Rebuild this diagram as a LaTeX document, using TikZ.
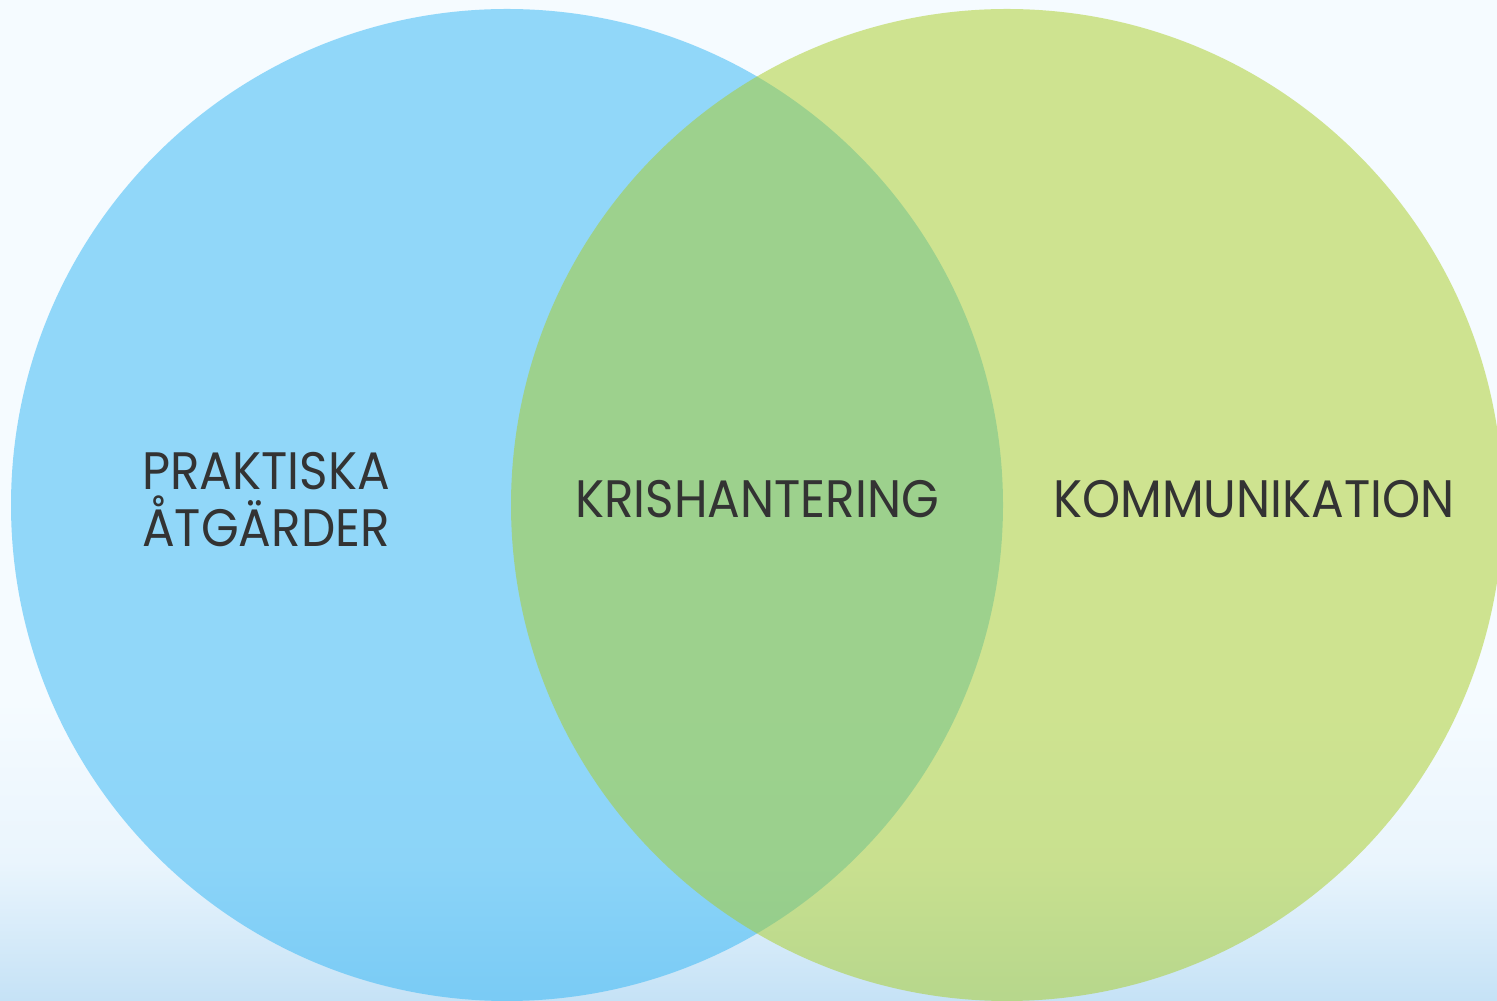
\documentclass[tikz,border=0pt]{standalone}
\usepackage{fontspec}
\setmainfont{Poppins}[FakeStretch=0.92]
\definecolor{myblue}{RGB}{47,181,245}
\definecolor{mygreen}{RGB}{169,205,35}
\definecolor{mytext}{RGB}{51,51,51}
\definecolor{bgtop}{RGB}{245,251,255}
\definecolor{bgmid}{RGB}{234,245,253}
\definecolor{bgbot}{RGB}{197,226,246}
\pgfdeclareverticalshading{bgshade}{100bp}{color(0bp)=(bgbot); color(25bp)=(bgbot); color(32bp)=(bgmid); color(40bp)=(bgtop); color(100bp)=(bgtop)}

\begin{document}
\begin{tikzpicture}[x=0.1mm,y=0.1mm,
    setcircle/.style={circle,minimum size=99.2mm,inner sep=0pt,fill opacity=0.5},
    setlabel/.style={text=mytext,align=center,inner sep=0pt,
      font=\fontsize{15}{16.2}\selectfont}
    ]

    % background
    \shade[shading=bgshade] (0,0) rectangle (1497,1001);
    \useasboundingbox (0,0) rectangle (1497,1001);

    % the two sets
    \node (praktiska) [setcircle,fill=myblue] at (507,496) {};
    \node (kommunikation) [setcircle,fill=mygreen] at (1007,496) {};

    % the labels
    \node (lpraktiska) [setlabel] at (266,501) {PRAKTISKA\\ÅTGÄRDER};
    \node (lkris) [setlabel] at (757,502) {KRISHANTERING};
    \node (lkomm) [setlabel] at (1254,502) {KOMMUNIKATION};
\end{tikzpicture}
\end{document}
